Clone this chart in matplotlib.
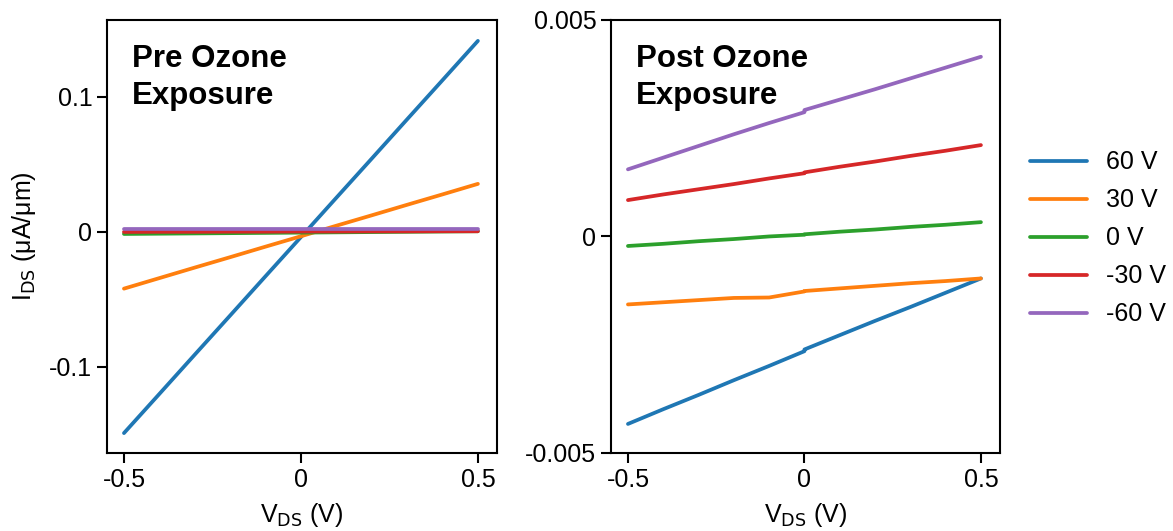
import matplotlib.pyplot as plt
import numpy as np

plt.rcParams['font.family'] = ['Liberation Sans', 'DejaVu Sans']
plt.rcParams['axes.unicode_minus'] = False

# dados
vds = [-0.5, -0.4, -0.3, -0.2, -0.1, 0.0, 0.1, 0.2, 0.3, 0.4, 0.5]
rotulos = ['60 V', '30 V', '0 V', '-30 V', '-60 V']
cores = ['#1f77b4', '#ff7f0e', '#2ca02c', '#d62728', '#9467bd']

# antes do ozonio (uA/um)
pre_60 = [-0.149, -0.1200, -0.0909, -0.0619, -0.0328, -0.0038, 0.0253, 0.0543, 0.0834, 0.1124, 0.1415]
pre_30 = [-0.042, -0.0342, -0.0264, -0.0187, -0.0109, -0.0032, 0.0046, 0.0123, 0.0201, 0.0278, 0.0356]
pre_0 = [-0.0015, -0.0013, -0.0011, -0.0009, -0.0007, -0.0005, -0.0003, -0.0001, 0.0001, 0.0003, 0.0005]
pre_m30 = [0.0000, 0.0001, 0.0001, 0.0002, 0.0002, 0.0003, 0.0003, 0.0004, 0.0004, 0.0005, 0.0005]
pre_m60 = [0.0020, 0.0020, 0.0020, 0.0020, 0.0020, 0.0020, 0.0020, 0.0020, 0.0020, 0.0020, 0.0020]

# depois do ozonio (uA/um)
vds_pos = [-0.5, -0.4, -0.3, -0.2, -0.1, 0.0, 0.0, 0.1, 0.2, 0.3, 0.4, 0.5]
pos_60 = [-0.00433, -0.00399, -0.00366, -0.00332, -0.00299, -0.00265, -0.00261, -0.00228, -0.00195, -0.00163, -0.00130, -0.00097]
pos_30 = [-0.00157, -0.00152, -0.00147, -0.00142, -0.00141, -0.00127, -0.00126, -0.00120, -0.00114, -0.00108, -0.00103, -0.00097]
pos_0 = [-0.00022, -0.00017, -0.00011, -0.00006, 0.00000, 0.00004, 0.00005, 0.00011, 0.00016, 0.00022, 0.00027, 0.00033]
pos_m30 = [0.00084, 0.00097, 0.00109, 0.00121, 0.00134, 0.00146, 0.00148, 0.00161, 0.00173, 0.00186, 0.00198, 0.00211]
pos_m60 = [0.00155, 0.00182, 0.00209, 0.00236, 0.00262, 0.00287, 0.00292, 0.00316, 0.00340, 0.00365, 0.00390, 0.00415]

pre = [pre_60, pre_30, pre_0, pre_m30, pre_m60]
pos = [pos_60, pos_30, pos_0, pos_m30, pos_m60]

fig = plt.figure(figsize=(11.73, 5.31), dpi=100)
ax1 = fig.add_axes([0.0912, 0.147, 0.3325, 0.8154])
ax2 = fig.add_axes([0.5209, 0.147, 0.3316, 0.8154])

for y, c, r in zip(pre, cores, rotulos):
    ax1.plot(vds, y, color=c, lw=2.7, label=r, solid_capstyle='round')
for y, c in zip(pos, cores):
    ax2.plot(vds_pos, y, color=c, lw=2.7, solid_capstyle='round')

ax1.set_xlim(-0.548, 0.554)
ax1.set_ylim(-0.1637, 0.157)
ax1.set_yticks([-0.1, 0, 0.1])
ax1.set_yticklabels(['-0.1', '0', '0.1'])
ax2.set_xlim(-0.548, 0.554)
ax2.set_ylim(-0.005, 0.005)
ax2.set_yticks([-0.005, 0, 0.005])
ax2.set_yticklabels(['-0.005', '0', '0.005'])

for ax in (ax1, ax2):
    ax.set_xticks([-0.5, 0, 0.5])
    ax.set_xticklabels(['-0.5', '0', '0.5'])
    ax.tick_params(labelsize=18, length=7, width=1.5, direction='out')
    for s in ax.spines.values():
        s.set_linewidth(1.5)
    ax.set_xlabel('V$_{\\mathrm{DS}}$ (V)', fontsize=18, labelpad=7)

ax1.set_ylabel('I$_{\\mathrm{DS}}$ (\u03bcA/\u03bcm)', fontsize=18, labelpad=8)

ax1.text(0.065, 0.945, 'Pre Ozone\nExposure', transform=ax1.transAxes, fontsize=22.5,
         fontweight='bold', va='top', ha='left', linespacing=1.3)
ax2.text(0.065, 0.945, 'Post Ozone\nExposure', transform=ax2.transAxes, fontsize=22.5,
         fontweight='bold', va='top', ha='left', linespacing=1.3)

fig.legend(loc='center left', bbox_to_anchor=(0.878, 0.551), frameon=False, fontsize=18,
           handlelength=2.3, labelspacing=0.56, handletextpad=0.75, borderaxespad=0,
           borderpad=0)

plt.savefig('out.png', dpi=100)
